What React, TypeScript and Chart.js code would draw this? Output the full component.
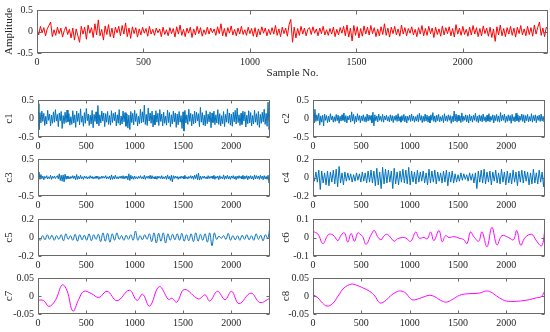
import React, { useEffect, useRef } from 'react';
import { Chart, registerables } from 'chart.js';

Chart.register(...registerables);

const SAMPLE_MAX = 2400;
const X_TICKS = [0, 500, 1000, 1500, 2000];

// Raw signal (sampled every 8 samples)
const amplitude = [
  .05,-.08,.12,-.03,.09,-.1,.06,.14,.22,-.12,.04,-.09,.1,-.05,.08,-.13,.02,.11,-.07,.05,
  -.15,.08,-.2,.06,-.1,-.25,.12,-.06,.1,-.18,.15,-.04,.09,-.14,.18,-.08,.27,-.1,.05,-.2,
  .13,-.07,.16,-.12,.08,-.15,.1,-.03,.12,-.1,.14,-.06,.2,-.12,.08,-.16,.11,-.05,.09,-.13,
  .06,-.08,.1,-.04,.07,-.11,.12,-.06,.05,-.09,.08,-.03,.06,-.12,.1,-.07,.04,-.1,.09,-.05,
  .07,-.13,.11,-.06,.15,-.09,.05,-.12,.08,-.04,.1,-.14,.06,-.08,.12,-.05,.09,-.11,.04,-.07,
  .1,-.06,.08,-.03,.06,-.09,.11,-.05,.18,-.1,.07,-.12,.09,-.04,.13,-.08,.05,-.1,.08,-.06,
  .12,-.07,.04,-.09,.1,-.05,.07,-.11,.09,-.13,.06,-.08,.11,-.04,.08,-.1,.05,-.07,.09,-.06,
  .14,-.09,.06,-.12,.1,-.05,.08,-.11,.16,.28,-.25,.1,-.15,.07,-.09,.12,-.06,.08,-.1,.05,
  .09,-.07,.11,-.04,.06,-.1,.08,-.05,.12,-.08,.04,-.09,.07,-.06,.1,-.12,.05,-.08,.09,-.04,
  .12,-.1,.15,-.13,.08,-.22,.14,-.09,.11,-.15,.07,-.11,.13,-.06,.1,-.08,.14,-.05,.09,-.12,
  .06,-.1,.11,-.07,.18,-.09,.08,-.13,.1,-.05,.12,-.08,.06,-.11,.15,-.06,.09,-.1,.07,-.04,
  .11,-.08,.05,-.12,.09,-.06,.14,-.1,.07,-.09,.12,-.05,.08,-.14,.1,-.07,.06,-.11,.13,-.08,
  .09,-.05,.11,-.1,.07,-.13,.16,-.06,.08,-.09,.12,-.07,.05,-.11,.1,-.08,.14,-.06,.09,-.12,
  .07,-.1,.13,-.05,.08,-.11,.1,-.14,.06,-.23,.11,-.08,.15,-.1,.07,-.12,.09,-.06,.12,-.09,
  .08,-.13,.1,-.05,.14,-.08,.06,-.1,.12,-.07,.09,-.11,.15,-.06,.1,.22,-.09,.08,-.12,.1,.05,
];

// IMFs c1..c3 (sampled every 10 samples)
const c1 = [
  .4,-.3,.16,-.12,.2,-.08,.14,-.19,.06,-.15,.22,-.05,.12,-.2,.09,-.13,.18,-.1,.24,-.07,
  .11,-.22,.15,-.06,.19,-.27,.08,-.14,.17,-.11,.23,-.09,.13,-.18,.05,-.16,.21,-.12,.1,-.24,
  .2,-.08,.14,-.17,.26,-.1,.07,-.21,.16,-.13,.27,-.06,.12,-.19,.09,-.15,.22,-.25,.11,-.08,
  .18,-.14,.35,-.2,.1,-.12,.2,-.07,.15,-.22,.13,-.1,.19,-.16,.08,-.18,.21,-.11,.14,-.06,
  .17,-.2,.1,-.13,.24,-.18,.07,-.15,.2,-.09,.16,-.21,.12,-.26,.09,-.3,.19,-.11,.14,-.17,
  .22,-.08,.13,-.2,.06,-.14,.25,-.12,.18,-.1,.36,-.16,.11,-.19,.28,-.07,.15,-.13,.2,-.23,
  .09,-.17,.21,-.1,.14,-.19,.24,-.08,.12,-.2,.17,-.13,.07,-.18,.23,-.11,.16,-.22,.1,-.15,
  .2,-.09,.15,-.24,.12,-.17,.19,-.1,.08,-.27,.18,-.34,.22,-.12,.1,-.16,.25,-.08,.14,-.2,
  .11,-.15,.2,-.12,.17,-.07,.13,-.22,.3,-.1,.16,-.18,.09,-.2,.21,-.14,.12,-.09,.18,-.25,
  .15,-.11,.2,-.17,.1,-.12,.24,-.16,.13,-.2,.08,-.14,.19,-.22,.11,-.1,.26,-.13,.15,-.18,
  .12,-.21,.17,-.09,.22,-.15,.28,-.11,.1,-.19,.14,-.16,.2,-.07,.18,-.23,.09,-.14,.21,-.12,
  .16,-.2,.08,-.15,.23,-.1,.13,-.18,.19,-.24,.11,-.13,.17,-.09,.25,-.16,.14,-.21,.44,-.3,.05,
];

const c2 = [
  .05,-.12,.25,-.08,.1,-.06,.14,-.18,.07,-.1,.09,-.2,.12,-.05,.08,-.11,.06,-.09,.13,-.04,
  .07,-.1,.05,-.08,.11,-.06,.09,-.13,.06,-.07,.1,-.05,.15,-.09,.08,-.12,.06,-.04,.09,-.1,
  .18,-.07,.11,-.14,.06,-.09,.13,-.05,.08,-.11,.07,-.06,.1,-.08,.05,-.1,.12,-.07,.09,-.05,
  .08,-.12,.17,-.2,.1,-.06,.07,-.09,.12,-.05,.06,-.08,.11,-.1,.07,-.04,.09,-.07,.05,-.09,
  .1,-.06,.08,-.11,.06,-.05,.09,-.08,.13,-.07,.05,-.1,.08,-.06,.11,-.09,.07,-.12,.06,-.05,
  .09,-.08,.12,-.06,.07,-.1,.05,-.07,.1,-.09,.14,-.05,.08,-.11,.06,-.08,.12,-.07,.09,-.1,
  .06,-.12,.1,-.05,.16,-.08,.07,-.1,.09,-.06,.11,-.09,.05,-.07,.08,-.11,.13,-.06,.07,-.08,
  .1,-.05,.08,-.13,.06,-.09,.2,-.07,.12,-.1,.09,-.06,.07,-.11,.15,-.08,.06,-.05,.1,-.09,
  .08,-.12,.11,-.06,.07,-.1,.09,-.05,.14,-.08,.06,-.11,.1,-.07,.08,-.09,.12,-.06,.05,-.1,
  .09,-.07,.13,-.09,.06,-.05,.1,-.12,.08,-.06,.11,-.08,.07,-.1,.16,-.07,.09,-.05,.12,-.11,
  .06,-.08,.1,-.06,.08,-.13,.11,-.07,.05,-.09,.14,-.06,.09,-.1,.07,-.05,.12,-.08,.1,-.12,
  .08,-.06,.11,-.09,.05,-.07,.13,-.1,.08,-.06,.1,-.11,.07,-.05,.09,-.08,.12,-.07,.06,-.09,.03,
];

const c3 = [
  .02,.15,-.05,.08,-.03,.04,-.06,.03,-.02,.05,-.04,.02,-.03,.06,-.05,.03,-.02,.04,-.03,.02,
  .05,-.04,.1,-.08,.06,-.1,.07,-.12,.09,-.05,.04,-.03,.02,-.04,.03,-.02,.05,-.03,.04,-.06,
  .08,-.05,.03,-.04,.06,-.03,.02,-.05,.04,-.02,.03,-.04,.02,-.03,.05,-.02,.03,-.04,.02,-.03,
  .04,-.02,.03,-.05,.02,-.03,.04,-.02,.03,-.02,.05,-.04,.02,-.03,.04,-.06,.07,-.05,.03,-.04,
  .06,-.03,.02,-.04,.03,-.02,.04,-.03,.05,-.04,.03,-.02,.04,-.06,.1,-.08,.06,-.04,.03,-.05,
  .04,-.03,.02,-.04,.03,-.02,.05,-.03,.02,-.04,.06,-.05,.03,-.02,.04,-.03,.06,-.04,.05,-.03,
  .02,-.04,.03,-.05,.04,-.02,.03,-.03,.05,-.04,.02,-.03,.04,-.05,.07,-.04,.03,-.08,.06,-.12,
  .05,-.03,.04,-.02,.03,-.05,.02,-.03,.04,-.02,.03,-.04,.06,-.03,.02,-.04,.03,-.02,.05,-.03,
  .04,-.05,.06,-.03,.08,-.06,.12,-.07,.04,-.05,.03,-.02,.04,-.03,.02,-.04,.05,-.03,.03,-.02,
  .04,-.03,.06,-.05,.03,-.02,.04,-.06,.05,-.03,.02,-.04,.07,-.05,.04,-.03,.06,-.04,.03,-.05,
  .04,-.02,.05,-.04,.03,-.06,.04,-.03,.05,-.02,.03,-.04,.06,-.05,.04,-.03,.05,-.06,.04,-.03,
  .05,-.04,.03,-.06,.07,-.04,.05,-.03,.04,-.05,.06,-.03,.04,-.06,.05,-.04,.03,-.05,.06,-.15,.02,
];

// c4 (sampled every 15 samples)
const c4 = [
  .02,-.04,.06,-.05,.08,-.13,.07,-.06,.05,-.08,.07,-.09,.06,-.05,.08,-.07,.09,-.1,.12,-.06,
  .05,-.08,.06,-.04,.05,-.03,.04,-.05,.03,-.04,.05,-.03,.04,-.05,.06,-.04,.05,-.06,.07,-.05,
  .08,-.06,.07,-.09,.1,-.08,.06,-.12,.11,-.07,.09,-.06,.08,-.05,.07,-.12,.1,-.07,.06,-.08,
  .07,-.05,.09,-.06,.08,-.07,.11,-.08,.07,-.05,.06,-.07,.08,-.05,.06,-.04,.07,-.06,.05,-.08,
  .09,-.06,.07,-.05,.08,-.07,.06,-.04,.05,-.06,.07,-.05,.08,-.09,.06,-.05,.07,-.06,.04,-.05,
  .03,-.04,.05,-.03,.04,-.02,.03,-.04,.05,-.03,.04,-.06,.05,-.12,.07,-.05,.08,-.06,.09,-.07,
  .06,-.05,.07,-.08,.06,-.04,.08,-.06,.05,-.07,.09,-.05,.06,-.08,.07,-.06,.05,-.07,.08,-.05,
  .06,-.09,.07,-.05,.08,-.06,.07,-.04,.06,-.08,.05,-.07,.09,-.06,.05,-.07,.08,-.05,.06,-.1,.12,
];

// c5 (sampled every 24 samples)
const c5 = [
  0,-.03,.02,-.025,.03,-.02,.025,-.03,.02,-.02,
  .03,-.035,.04,-.02,.02,-.03,.035,-.04,.03,-.025,
  .025,-.03,.04,-.035,.03,-.02,.035,-.045,.05,-.04,
  .045,-.05,.04,-.03,.05,-.02,.02,-.03,.025,-.02,
  .03,-.03,.07,-.03,.02,-.025,.03,-.02,.04,-.045,
  .05,-.06,.045,-.04,.05,-.06,.04,-.03,.035,-.025,
  .04,-.03,.045,-.04,.03,-.035,.04,-.045,.05,-.04,
  .035,-.03,.04,-.05,.05,-.09,.05,-.02,.015,-.01,
  .02,-.02,.045,-.03,.02,-.025,.02,-.03,.025,-.02,
  .03,-.025,.02,-.03,.04,-.02,.025,-.035,.03,-.01,.12,
];

// c6..c8 as [sample, value] pairs read at the turning points
const c6: [number, number][] = [
  [0,.033],[51,.018],[103,-.033],[154,.013],[189,.018],[223,.005],[257,-.017],[291,.013],
  [326,.025],[360,-.025],[394,.022],[429,-.02],[463,.025],[487,.018],[514,.005],[549,-.037],
  [600,.013],[634,.038],[668,.005],[703,-.012],[737,.01],[771,.017],[840,-.02],[874,-.007],
  [926,0],[960,-.003],[1011,-.02],[1063,.03],[1097,-.003],[1148,0],[1183,-.007],[1217,.03],
  [1251,-.017],[1303,.038],[1337,-.023],[1371,.01],[1406,0],[1457,.005],[1508,-.003],[1560,-.012],
  [1594,-.033],[1628,.03],[1663,.005],[1714,-.02],[1748,.03],[1800,-.05],[1851,.055],[1903,-.04],
  [1954,.01],[2023,0],[2074,-.012],[2108,.038],[2149,-.042],[2194,0],[2263,.017],[2314,-.02],
  [2366,-.045],[2400,.045],
];

const c7: [number, number][] = [
  [0,-.011],[60,-.013],[113,-.029],[180,-.012],[251,.031],[300,.015],[361,-.042],[420,-.01],
  [474,.013],[550,.007],[629,-.004],[715,.013],[818,-.013],[945,.016],[1024,-.012],[1082,.005],
  [1155,-.028],[1254,.026],[1351,-.01],[1385,-.006],[1436,-.017],[1515,.018],[1660,-.008],[1729,.003],
  [1777,-.014],[1856,.013],[1935,-.01],[2003,.013],[2079,-.021],[2203,.008],[2296,-.018],[2400,-.006],
];

const c8: [number, number][] = [
  [0,.004],[50,-.005],[100,-.02],[145,-.028],[200,-.022],[260,0],[320,.022],[397,.033],
  [450,.03],[520,.022],[586,.013],[640,0],[690,-.019],[740,-.015],[800,0],[860,.011],
  [907,.014],[960,.008],[1000,-.005],[1034,-.011],[1100,-.007],[1150,-.002],[1207,.002],[1260,-.002],
  [1320,-.012],[1379,-.017],[1440,-.01],[1517,.002],[1590,.006],[1655,.007],[1720,.008],[1793,.014],
  [1840,.011],[1900,0],[1960,-.01],[2000,-.014],[2080,-.015],[2172,-.013],[2240,-.01],[2310,-.005],
  [2360,-.002],[2400,.015],
];

const uniform = (arr: number[]) =>
  arr.map((v, i) => ({ x: (i * SAMPLE_MAX) / (arr.length - 1), y: v }));
const pairs = (arr: [number, number][]) => arr.map(([x, y]) => ({ x, y }));

const BLUE = '#0072BD';
const MAGENTA = '#FF00FF';
const RED = '#FF0000';
const TXT = '#262626';
const FONT_FAMILY = "'Liberation Serif', 'Times New Roman', serif";
const PAD_T = 6;
const PAD_R = 2;

type PanelDef = {
  id: string; cl: number; yW: number; pt: number; pr: number; pb: number; xH: number;
  yTitle: string; yTitlePad: number; xTitle?: string; points: { x: number; y: number }[];
  color: string; ymin: number; ymax: number; ystep: number; tension: number; tickLen: number;
};

const PANELS: PanelDef[] = [
  { id: 'sig', cl: 0, yW: 37, pt: 6, pr: 548, pb: 53, xH: 28, yTitle: 'Amplitude', yTitlePad: 3, xTitle: 'Sample No.', points: uniform(amplitude), color: RED, ymin: -.5, ymax: .5, ystep: .5, tension: 0, tickLen: 4 },
  { id: 'c1', cl: 0, yW: 38, pt: 96, pr: 270, pb: 137, xH: 18, yTitle: 'c1', yTitlePad: 3, points: uniform(c1), color: BLUE, ymin: -.5, ymax: .5, ystep: .5, tension: 0, tickLen: 3 },
  { id: 'c2', cl: 275, yW: 38, pt: 96, pr: 545, pb: 137, xH: 18, yTitle: 'c2', yTitlePad: 5, points: uniform(c2), color: BLUE, ymin: -.5, ymax: .5, ystep: .5, tension: 0, tickLen: 3 },
  { id: 'c3', cl: 0, yW: 38, pt: 155, pr: 270, pb: 196, xH: 18, yTitle: 'c3', yTitlePad: 3, points: uniform(c3), color: BLUE, ymin: -.5, ymax: .5, ystep: .5, tension: 0, tickLen: 3 },
  { id: 'c4', cl: 275, yW: 38, pt: 155, pr: 545, pb: 196, xH: 18, yTitle: 'c4', yTitlePad: 5, points: uniform(c4), color: BLUE, ymin: -.2, ymax: .2, ystep: .2, tension: 0, tickLen: 3 },
  { id: 'c5', cl: 0, yW: 38, pt: 215, pr: 270, pb: 256, xH: 18, yTitle: 'c5', yTitlePad: 3, points: uniform(c5), color: BLUE, ymin: -.2, ymax: .2, ystep: .2, tension: 0.4, tickLen: 3 },
  { id: 'c6', cl: 275, yW: 38, pt: 215, pr: 545, pb: 256, xH: 18, yTitle: 'c6', yTitlePad: 5, points: pairs(c6), color: MAGENTA, ymin: -.1, ymax: .1, ystep: .1, tension: 0.4, tickLen: 3 },
  { id: 'c7', cl: 0, yW: 38, pt: 274, pr: 270, pb: 314, xH: 18, yTitle: 'c7', yTitlePad: 3, points: pairs(c7), color: MAGENTA, ymin: -.05, ymax: .05, ystep: .05, tension: 0.4, tickLen: 3 },
  { id: 'c8', cl: 275, yW: 38, pt: 274, pr: 545, pb: 314, xH: 18, yTitle: 'c8', yTitlePad: 5, points: pairs(c8), color: MAGENTA, ymin: -.05, ymax: .05, ystep: .05, tension: 0.4, tickLen: 3 },
];

const geom = (p: PanelDef) => {
  const top = p.pt - PAD_T;
  return { left: p.cl, top, w: p.pr + PAD_R - p.cl, h: p.pb + p.xH - top };
};

const boxPlugin = {
  id: 'matlabBox',
  afterDatasetsDraw(chart: any, _args: any, opts: any) {
    const { ctx, chartArea: a, scales } = chart;
    const L = Math.round(a.left) + 0.5;
    const R = Math.round(a.right) - 0.5;
    const T = Math.round(a.top) + 0.5;
    const B = Math.round(a.bottom) - 0.5;
    const len = opts.len || 3;
    ctx.save();
    ctx.strokeStyle = '#6a6a6a';
    ctx.lineWidth = 1;
    ctx.strokeRect(L, T, R - L, B - T);
    ctx.beginPath();
    scales.x.ticks.forEach((t: any) => {
      const px = Math.round(scales.x.getPixelForValue(t.value)) + 0.5;
      ctx.moveTo(px, B); ctx.lineTo(px, B - len);
      ctx.moveTo(px, T); ctx.lineTo(px, T + len);
    });
    scales.y.ticks.forEach((t: any) => {
      const py = Math.round(scales.y.getPixelForValue(t.value)) + 0.5;
      ctx.moveTo(L, py); ctx.lineTo(L + len, py);
      ctx.moveTo(R, py); ctx.lineTo(R - len, py);
    });
    ctx.stroke();
    ctx.restore();
  },
};

const makeConfig = (p: PanelDef): any => {
  const tickFont = { family: FONT_FAMILY, size: 10 };
  const titleFont = { family: FONT_FAMILY, size: 11 };
  return {
    type: 'line',
    data: {
      datasets: [{
        data: p.points, borderColor: p.color, borderWidth: 1, pointRadius: 0,
        tension: p.tension, borderJoinStyle: 'round', fill: false,
      }],
    },
    options: {
      animation: false, responsive: false, maintainAspectRatio: false, events: [],
      layout: { padding: { top: PAD_T, right: PAD_R, left: 0, bottom: 0 } },
      plugins: { legend: { display: false }, tooltip: { enabled: false }, matlabBox: { len: p.tickLen } },
      scales: {
        x: {
          type: 'linear', min: 0, max: SAMPLE_MAX,
          grid: { display: false, drawTicks: false }, border: { display: false },
          ticks: { autoSkip: false, maxRotation: 0, padding: 3, font: tickFont, color: TXT, callback: (v: number) => String(v) },
          afterBuildTicks: (s: any) => { s.ticks = X_TICKS.map((v) => ({ value: v })); },
          title: p.xTitle ? { display: true, text: p.xTitle, font: titleFont, color: TXT, padding: { top: 0, bottom: 1 } } : { display: false },
          afterFit: (s: any) => { s.height = p.xH; },
        },
        y: {
          type: 'linear', min: p.ymin, max: p.ymax,
          grid: { display: false, drawTicks: false }, border: { display: false },
          ticks: { stepSize: p.ystep, padding: 4, font: tickFont, color: TXT, callback: (v: number) => String(Math.round(v * 1000) / 1000) },
          title: { display: true, text: p.yTitle, font: titleFont, color: TXT, padding: { top: p.yTitlePad, bottom: 0 } },
          afterFit: (s: any) => { s.width = p.yW; },
        },
      },
    },
    plugins: [boxPlugin],
  };
};

export default function App() {
  const refs = useRef<(HTMLCanvasElement | null)[]>([]);
  useEffect(() => {
    const charts = PANELS.map((p, i) => new Chart(refs.current[i] as HTMLCanvasElement, makeConfig(p)));
    return () => charts.forEach((c) => c.destroy());
  }, []);
  return (
    <div style={{ position: 'absolute', left: 0, top: 0, width: 550, height: 332, background: '#fff', overflow: 'hidden' }}>
      {PANELS.map((p, i) => {
        const g = geom(p);
        return (
          <canvas
            key={p.id}
            ref={(el) => { refs.current[i] = el; }}
            width={g.w}
            height={g.h}
            style={{ position: 'absolute', left: g.left, top: g.top, width: g.w, height: g.h }}
          />
        );
      })}
    </div>
  );
}
